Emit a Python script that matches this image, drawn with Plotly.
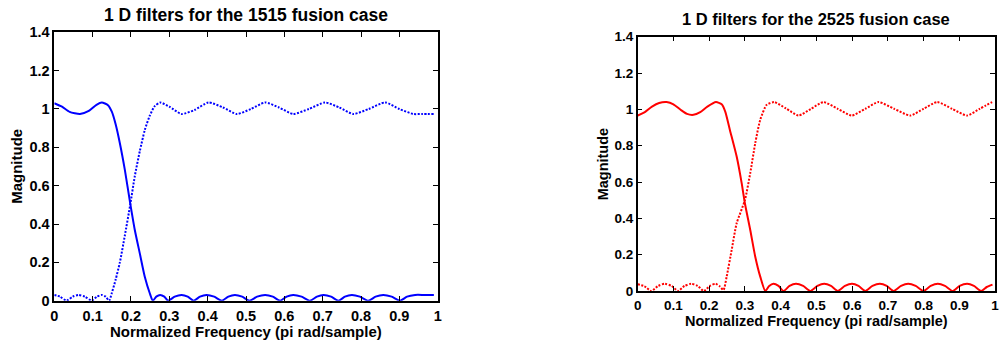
import plotly.graph_objects as go

# ---------------- data ----------------
# Left panel: 1515 fusion case (blue)
lp1_f = [0, 0.02, 0.04, 0.067, 0.09, 0.11, 0.124, 0.14, 0.150, 0.160, 0.171, 0.184, 0.198, 0.210,
         0.223, 0.236, 0.249, 0.257, 0.266, 0.276, 0.287, 0.297, 0.314, 0.332, 0.348, 0.363, 0.380,
         0.397, 0.417, 0.437, 0.454, 0.471, 0.490, 0.509, 0.529, 0.550, 0.570, 0.589, 0.606, 0.623,
         0.645, 0.667, 0.685, 0.702, 0.722, 0.741, 0.758, 0.776, 0.797, 0.819, 0.838, 0.858, 0.880,
         0.902, 0.920, 0.941, 0.965, 0.990]
lp1_m = [1.030, 1.012, 0.985, 0.974, 0.990, 1.022, 1.034, 1.020, 0.986, 0.920, 0.821, 0.682, 0.508,
         0.369, 0.247, 0.125, 0.039, 0.000, 0.021, 0.030, 0.021, 0.000, 0.021, 0.030, 0.021, 0.000,
         0.021, 0.030, 0.021, 0.000, 0.021, 0.030, 0.021, 0.000, 0.021, 0.030, 0.021, 0.000, 0.021,
         0.030, 0.021, 0.000, 0.021, 0.030, 0.021, 0.000, 0.021, 0.030, 0.021, 0.000, 0.021, 0.030,
         0.021, 0.000, 0.021, 0.030, 0.030, 0.030]

hp1_f = [0, 0.015, 0.032, 0.048, 0.063, 0.080, 0.0975, 0.111, 0.124, 0.134, 0.143, 0.150, 0.160,
         0.171, 0.184, 0.198, 0.210, 0.223, 0.236, 0.249, 0.262, 0.276, 0.300, 0.332, 0.366, 0.402,
         0.440, 0.476, 0.513, 0.550, 0.586, 0.623, 0.664, 0.706, 0.743, 0.780, 0.820, 0.863, 0.900,
         0.936, 0.960, 0.990]
hp1_m = [0.030, 0.021, 0.000, 0.021, 0.030, 0.021, 0.000, 0.021, 0.030, 0.021, 0.000, 0.040, 0.110,
         0.200, 0.340, 0.500, 0.650, 0.780, 0.890, 0.965, 1.015, 1.034, 1.012, 0.974, 0.995, 1.034,
         1.008, 0.974, 1.000, 1.034, 1.008, 0.974, 1.000, 1.034, 1.008, 0.974, 1.000, 1.034, 1.000,
         0.974, 0.974, 0.974]

# Right panel: 2525 fusion case (red)
lp2_f = [0, 0.02, 0.04, 0.060, 0.081, 0.100, 0.120, 0.138, 0.156, 0.175, 0.195, 0.219, 0.235, 0.245,
         0.258, 0.277, 0.291, 0.300, 0.315, 0.329, 0.343, 0.357, 0.368, 0.380, 0.394, 0.408, 0.425,
         0.443, 0.463, 0.483, 0.503, 0.522, 0.541, 0.560, 0.580, 0.600, 0.618, 0.637, 0.657, 0.678,
         0.697, 0.716, 0.737, 0.757, 0.778, 0.800, 0.820, 0.840, 0.860, 0.882, 0.901, 0.922, 0.941,
         0.961, 0.977, 0.993]
lp2_m = [0.966, 0.985, 1.015, 1.035, 1.040, 1.028, 0.998, 0.975, 0.970, 0.985, 1.015, 1.040, 1.028,
         0.988, 0.887, 0.740, 0.594, 0.483, 0.336, 0.189, 0.079, 0.000, 0.028, 0.040, 0.028, 0.000,
         0.028, 0.040, 0.028, 0.000, 0.028, 0.040, 0.028, 0.000, 0.028, 0.040, 0.028, 0.000, 0.028,
         0.040, 0.028, 0.000, 0.028, 0.040, 0.028, 0.000, 0.028, 0.040, 0.028, 0.000, 0.028, 0.040,
         0.028, 0.000, 0.022, 0.035]

hp2_f = [0, 0.019, 0.038, 0.057, 0.076, 0.095, 0.113, 0.131, 0.150, 0.168, 0.185, 0.202, 0.218,
         0.230, 0.240, 0.249, 0.263, 0.277, 0.300, 0.315, 0.329, 0.343, 0.361, 0.382, 0.415, 0.450,
         0.485, 0.520, 0.560, 0.599, 0.637, 0.674, 0.718, 0.763, 0.800, 0.838, 0.880, 0.922, 0.957,
         0.992]
hp2_m = [0.037, 0.026, 0.000, 0.028, 0.040, 0.028, 0.000, 0.028, 0.040, 0.028, 0.000, 0.028, 0.040,
         0.025, 0.005, 0.079, 0.226, 0.373, 0.500, 0.649, 0.814, 0.943, 1.025, 1.040, 1.005, 0.966,
         1.003, 1.040, 1.003, 0.966, 1.003, 1.040, 1.003, 0.966, 1.003, 1.040, 1.003, 0.966, 1.003,
         1.040]

x_ticks = [0, 0.1, 0.2, 0.3, 0.4, 0.5, 0.6, 0.7, 0.8, 0.9, 1]
x_labels = ["0", "0.1", "0.2", "0.3", "0.4", "0.5", "0.6", "0.7", "0.8", "0.9", "1"]
y_ticks = [0, 0.2, 0.4, 0.6, 0.8, 1.0, 1.2, 1.4]
y_labels = ["0", "0.2", "0.4", "0.6", "0.8", "1", "1.2", "1.4"]

titles = ["1 D filters for the 1515 fusion case", "1 D filters for the 2525 fusion case"]
x_title = "Normalized Frequency (pi rad/sample)"
y_title = "Magnitude"

# ---------------- figure ----------------
W, H = 999, 348
FONT = "Liberation Sans, Arial, Helvetica, sans-serif"

fig = go.Figure()
line_common = dict(shape="spline", smoothing=0.6)
DOT = "2px,1.5px"
fig.add_trace(go.Scatter(x=lp1_f, y=lp1_m, mode="lines", xaxis="x", yaxis="y",
                         line=dict(color="#0000ff", width=2, **line_common)))
fig.add_trace(go.Scatter(x=hp1_f, y=hp1_m, mode="lines", xaxis="x", yaxis="y",
                         line=dict(color="#0000ff", width=2, dash=DOT, **line_common)))
fig.add_trace(go.Scatter(x=lp2_f, y=lp2_m, mode="lines", xaxis="x2", yaxis="y2",
                         line=dict(color="#ff0000", width=2, **line_common)))
fig.add_trace(go.Scatter(x=hp2_f, y=hp2_m, mode="lines", xaxis="x2", yaxis="y2",
                         line=dict(color="#ff0000", width=2, dash=DOT, **line_common)))

# pixel boxes of the two axes
boxes = [dict(l=54.3, r=437.7, t=32.3, b=300.7, fs=14.5, ts=17.5, ls=15, ty=15, xy=331.5, yx=16.3),
         dict(l=637.7, r=995.0, t=36.7, b=291.0, fs=13.5, ts=16.5, ls=14.5, ty=18.8, xy=320.5, yx=602.5)]

def axis_common(fs):
    return dict(showline=True, linecolor="black", linewidth=1.5, mirror="ticks",
                ticks="inside", ticklen=5, tickwidth=1, tickcolor="black",
                showgrid=False, zeroline=False, fixedrange=True, automargin=False,
                ticklabeloverflow="allow",
                tickfont=dict(family=FONT, size=fs, color="black", weight="bold"))

layout = dict(width=W, height=H, margin=dict(l=0, r=0, t=0, b=0, autoexpand=False),
              paper_bgcolor="white", plot_bgcolor="white", showlegend=False)
annotations = []
for i, bx in enumerate(boxes):
    sfx = "" if i == 0 else "2"
    xa = axis_common(bx["fs"])
    xa.update(domain=[bx["l"] / W, bx["r"] / W], range=[0, 1], tickvals=x_ticks,
              ticktext=x_labels, anchor="y" + sfx, ticklabelstandoff=1)
    ya = axis_common(bx["fs"])
    ya.update(domain=[1 - bx["b"] / H, 1 - bx["t"] / H], range=[0, 1.4], tickvals=y_ticks,
              ticktext=y_labels, anchor="x" + sfx)
    layout["xaxis" + sfx] = xa
    layout["yaxis" + sfx] = ya
    cx = (bx["l"] + bx["r"]) / 2 / W
    annotations.append(dict(text=titles[i], x=cx, y=1 - bx["ty"] / H, xref="paper", yref="paper",
                            xanchor="center", yanchor="middle", showarrow=False,
                            font=dict(family=FONT, size=bx["ts"], color="black", weight="bold")))
    annotations.append(dict(text=x_title, x=cx, y=1 - bx["xy"] / H, xref="paper", yref="paper",
                            xanchor="center", yanchor="middle", showarrow=False,
                            font=dict(family=FONT, size=bx["ls"], color="black", weight="bold")))
    annotations.append(dict(text=y_title, x=bx["yx"] / W, y=1 - (bx["t"] + bx["b"]) / 2 / H,
                            xref="paper", yref="paper", xanchor="center", yanchor="middle",
                            textangle=-90, showarrow=False,
                            font=dict(family=FONT, size=bx["ls"], color="black", weight="bold")))
layout["annotations"] = annotations
fig.update_layout(**layout)

fig.write_html("out.html")
